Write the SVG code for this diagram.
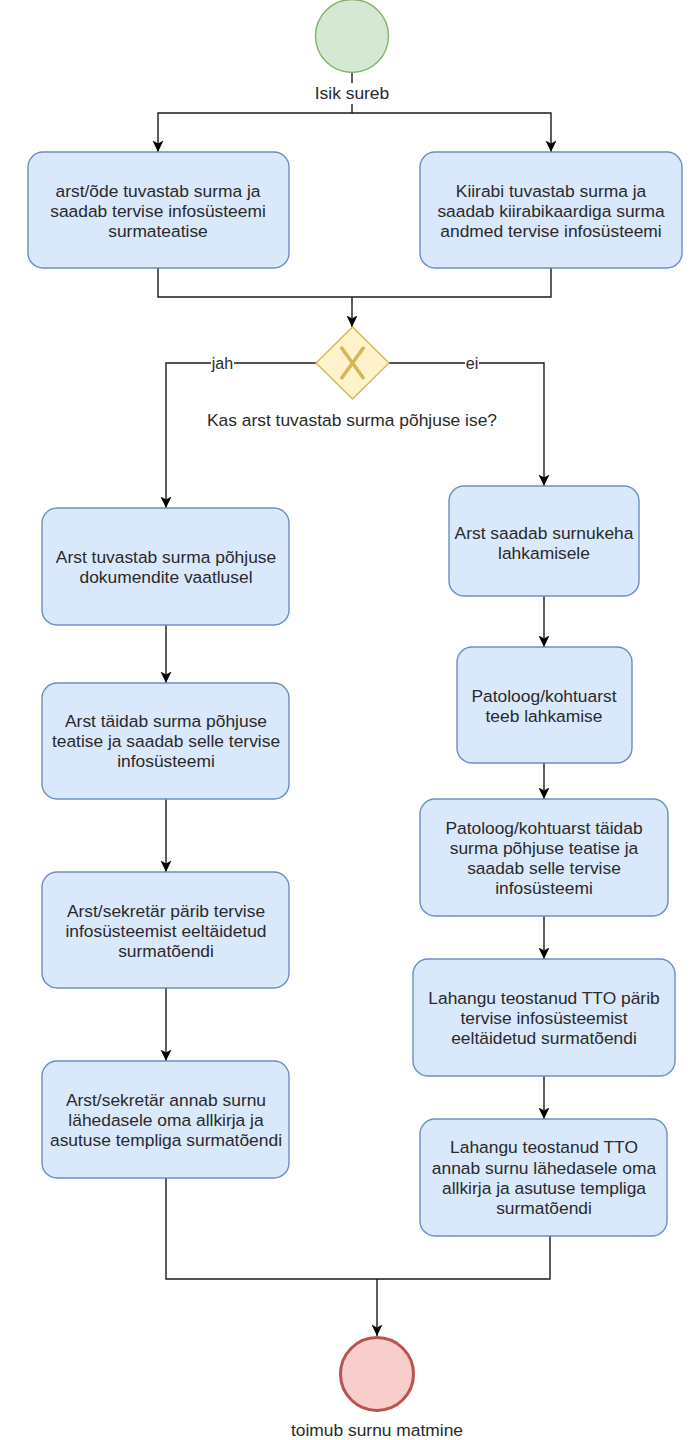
<svg xmlns="http://www.w3.org/2000/svg" width="692" height="1440" viewBox="0 0 692 1440">
<style>
  .box rect { fill: #dae8fc; stroke: #6c8ebf; stroke-width: 1.4; }
  text { font-family: "Liberation Sans", Arial, sans-serif; font-size: 17.4px; fill: #2a2a2a; text-anchor: middle; }
  .edge { fill: none; stroke: #1a1a1a; stroke-width: 1.4; }
  .arrow { marker-end: url(#arr); }
  .lblbg { fill: #ffffff; stroke: none; }
  .elbl { font-size: 16px; }
</style>
<defs>
  <marker id="arr" markerUnits="userSpaceOnUse" markerWidth="12" markerHeight="12" viewBox="0 0 12 12" refX="11.5" refY="6" orient="auto">
    <path d="M0,0.5 L11.5,6 L0,11.5 L3,6 Z" fill="#000"/>
  </marker>
</defs>
<rect width="692" height="1440" fill="#ffffff"/>

<g id="connectors">
  <path class="edge arrow" d="M352,73 V113 H158 V152"/>
  <path class="edge arrow" d="M352,113 H551 V152"/>
  <path class="edge" d="M158,268 V297 H551 V268"/>
  <path class="edge arrow" d="M352,297 V327"/>
  <path class="edge arrow" d="M316,363 H166 V508"/>
  <path class="edge arrow" d="M389,363 H544 V486"/>
  <path class="edge arrow" d="M166,625 V683"/>
  <path class="edge arrow" d="M166,799 V872"/>
  <path class="edge arrow" d="M166,988 V1061"/>
  <path class="edge arrow" d="M544,596 V647"/>
  <path class="edge arrow" d="M544,763 V799"/>
  <path class="edge arrow" d="M544,916 V959"/>
  <path class="edge arrow" d="M544,1076 V1119"/>
  <path class="edge" d="M166,1178 V1279 H550 V1236"/>
  <path class="edge arrow" d="M377,1279 V1336"/>
  <g id="edge-labels">
    <rect class="lblbg" x="211" y="354" width="23" height="18"/>
    <text class="elbl" x="222.5" y="369">jah</text>
    <rect class="lblbg" x="465" y="354" width="14" height="18"/>
    <text class="elbl" x="472" y="369">ei</text>
  </g>
</g>

<g id="start">
  <circle cx="352" cy="36" r="36.5" fill="#d5e8d4" stroke="#82b366" stroke-width="1.4"/>
  <rect class="lblbg" x="312" y="83" width="80" height="21"/>
  <text x="352" y="99">Isik sureb</text>
</g>

<g id="box-arst-ode" class="box">
  <rect x="28" y="152" width="261" height="116" rx="15"/>
  <text x="158" y="197">arst/õde tuvastab surma ja</text>
  <text x="158" y="217">saadab tervise infosüsteemi</text>
  <text x="158" y="237">surmateatise</text>
</g>

<g id="box-kiirabi" class="box">
  <rect x="420" y="152" width="262" height="116" rx="15"/>
  <text x="551" y="197">Kiirabi tuvastab surma ja</text>
  <text x="551" y="217">saadab kiirabikaardiga surma</text>
  <text x="551" y="237">andmed tervise infosüsteemi</text>
</g>

<g id="gateway">
  <path d="M352.5,327 L389,363 L352.5,399 L316,363 Z" fill="#fff2cc" stroke="#d6b656" stroke-width="1.4"/>
  <path d="M341,347 L364,379 M364,347 L341,379" stroke="#d6b656" stroke-width="3.5" fill="none"/>
  <text x="352" y="426">Kas arst tuvastab surma põhjuse ise?</text>
</g>

<g id="box-a" class="box">
  <rect x="42" y="508" width="247" height="117" rx="15"/>
  <text x="166" y="563">Arst tuvastab surma põhjuse</text>
  <text x="166" y="583">dokumendite vaatlusel</text>
</g>

<g id="box-b" class="box">
  <rect x="42" y="683" width="247" height="116" rx="15"/>
  <text x="166" y="727">Arst täidab surma põhjuse</text>
  <text x="166" y="747">teatise ja saadab selle tervise</text>
  <text x="166" y="767">infosüsteemi</text>
</g>

<g id="box-c" class="box">
  <rect x="42" y="872" width="247" height="116" rx="15"/>
  <text x="166" y="917">Arst/sekretär pärib tervise</text>
  <text x="166" y="937">infosüsteemist eeltäidetud</text>
  <text x="166" y="957">surmatõendi</text>
</g>

<g id="box-d" class="box">
  <rect x="42" y="1061" width="247" height="117" rx="15"/>
  <text x="166" y="1106">Arst/sekretär annab surnu</text>
  <text x="166" y="1126">lähedasele oma allkirja ja</text>
  <text x="166" y="1146">asutuse templiga surmatõendi</text>
</g>

<g id="box-r1" class="box">
  <rect x="449" y="486" width="190" height="110" rx="15"/>
  <text x="544" y="539">Arst saadab surnukeha</text>
  <text x="544" y="559">lahkamisele</text>
</g>

<g id="box-r2" class="box">
  <rect x="457" y="647" width="175" height="116" rx="15"/>
  <text x="544" y="702">Patoloog/kohtuarst</text>
  <text x="544" y="722">teeb lahkamise</text>
</g>

<g id="box-r3" class="box">
  <rect x="420" y="799" width="248" height="117" rx="15"/>
  <text x="544" y="834">Patoloog/kohtuarst täidab</text>
  <text x="544" y="854">surma põhjuse teatise ja</text>
  <text x="544" y="874">saadab selle tervise</text>
  <text x="544" y="894">infosüsteemi</text>
</g>

<g id="box-r4" class="box">
  <rect x="413" y="959" width="262" height="117" rx="15"/>
  <text x="544" y="1004">Lahangu teostanud TTO pärib</text>
  <text x="544" y="1024">tervise infosüsteemist</text>
  <text x="544" y="1044">eeltäidetud surmatõendi</text>
</g>

<g id="box-r5" class="box">
  <rect x="420" y="1119" width="247" height="117" rx="15"/>
  <text x="544" y="1153">Lahangu teostanud TTO</text>
  <text x="544" y="1174">annab surnu lähedasele oma</text>
  <text x="544" y="1194">allkirja ja asutuse templiga</text>
  <text x="544" y="1214">surmatõendi</text>
</g>

<g id="end">
  <circle cx="377" cy="1374" r="36.5" fill="#f8cecc" stroke="#b85450" stroke-width="3"/>
  <text x="377" y="1436">toimub surnu matmine</text>
</g>
</svg>
